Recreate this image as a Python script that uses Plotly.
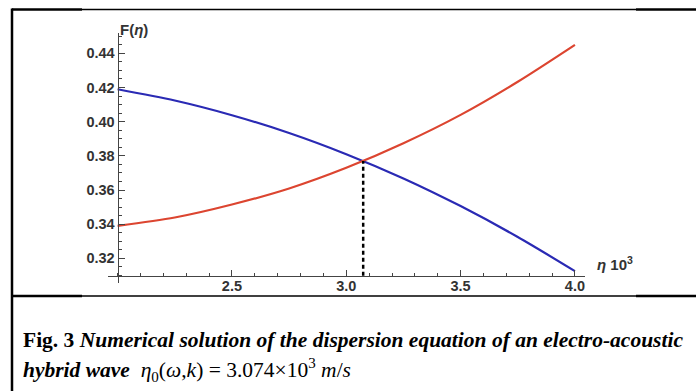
import plotly.graph_objects as go

# ---- data ----
eta = [2.0, 2.25, 2.5, 2.75, 3.0, 3.25, 3.5, 3.75, 4.0]
F_blue = [0.419, 0.4124, 0.4038, 0.3934, 0.3810, 0.3668, 0.3506, 0.3325, 0.3125]
F_red = [0.339, 0.3439, 0.3515, 0.3609, 0.3730, 0.3874, 0.4040, 0.4234, 0.445]
eta_cross = 3.074
F_cross = 0.377
x_ticks = [2.5, 3.0, 3.5, 4.0]
y_ticks = [0.32, 0.34, 0.36, 0.38, 0.40, 0.42, 0.44]

W, H = 696, 391
def px(x):
    return x / W
def py(y):
    return 1 - y / H

AX = "#444444"
TXT = "#333333"

fig = go.Figure()
fig.add_trace(go.Scatter(x=eta, y=F_blue, mode="lines",
                         line=dict(color="#2a2ab4", width=2.2, shape="spline", smoothing=0.8),
                         showlegend=False, hoverinfo="skip"))
fig.add_trace(go.Scatter(x=eta, y=F_red, mode="lines",
                         line=dict(color="#dc4530", width=2.2, shape="spline", smoothing=0.8),
                         showlegend=False, hoverinfo="skip"))
fig.add_trace(go.Scatter(x=[eta_cross, eta_cross], y=[0.3098, F_cross], mode="lines",
                         line=dict(color="black", width=2.5, dash="4px,3px"),
                         showlegend=False, hoverinfo="skip"))

tickfont = dict(family="Liberation Sans, Arial", size=14.5, color=TXT, weight="bold")
fig.update_layout(
    width=W, height=H,
    margin=dict(l=0, r=0, t=0, b=0),
    paper_bgcolor="white", plot_bgcolor="white",
    xaxis=dict(domain=[px(108), px(585)], range=[1.958, 4.044], anchor="free", position=py(275.7),
               showgrid=False, zeroline=False, showline=True, linecolor=AX, linewidth=1.2,
               tickmode="array", tickvals=x_ticks, ticktext=["%.1f" % v for v in x_ticks],
               ticks="inside", ticklen=6, tickcolor=AX, tickwidth=1.2, tickfont=tickfont,
               ticklabelstandoff=-3,
               minor=dict(dtick=0.1, tick0=2.0, ticks="inside", ticklen=3, tickcolor=AX, tickwidth=1)),
    yaxis=dict(domain=[py(283.3), py(32.7)], range=[0.3054, 0.4521], anchor="free", position=px(117.7),
               showgrid=False, zeroline=False, showline=True, linecolor=AX, linewidth=1.2,
               tickmode="array", tickvals=y_ticks, ticktext=["%.2f" % v for v in y_ticks],
               ticks="inside", ticklen=6, tickcolor=AX, tickwidth=1.2, tickfont=tickfont,
               minor=dict(dtick=0.005, tick0=0.30, ticks="inside", ticklen=3, tickcolor=AX, tickwidth=1)),
)

# axis labels
fig.add_annotation(x=px(118), y=py(19), xref="paper", yref="paper", text="F(<i>η</i>)",
                   showarrow=False, font=dict(family="Liberation Sans, Arial", size=15, color=TXT, weight="bold"))
fig.add_annotation(x=px(595), y=py(275), xref="paper", yref="paper", xanchor="left",
                   text="<i>η</i> 10<sup>3</sup>",
                   showarrow=False, font=dict(family="Liberation Sans, Arial", size=15, color=TXT, weight="bold"))

# caption
serif = "Liberation Serif, Times New Roman"
fig.add_annotation(x=px(21), y=py(340), xref="paper", yref="paper", xanchor="left", yanchor="middle",
                   text="<b>Fig. 3 <i>Numerical solution of the dispersion equation of an electro-acoustic</i></b>",
                   showarrow=False, font=dict(family=serif, size=21.5, color="black"))
fig.add_annotation(x=px(21), y=py(369.5), xref="paper", yref="paper", xanchor="left", yanchor="middle",
                   text="<b><i>hybrid wave</i></b>  <i>η</i><sub>0</sub>(<i>ω</i>,<i>k</i>) = 3.074×10<sup>3</sup> <i>m</i>/<i>s</i>",
                   showarrow=False, font=dict(family=serif, size=21.5, color="black"))

# table-like frame lines
def hline(y, x0, x1, w):
    fig.add_shape(type="line", xref="paper", yref="paper", x0=px(x0), x1=px(x1), y0=py(y), y1=py(y),
                  line=dict(color="black", width=w))
hline(9.5, 12, 82, 2.5)
hline(9.5, 82, 636, 1.5)
hline(9.5, 636, 696, 2.5)
hline(296, 12, 82, 2.5)
hline(296, 82, 636, 1.5)
hline(296, 636, 696, 2.5)
fig.add_shape(type="line", xref="paper", yref="paper", x0=px(12), x1=px(12), y0=py(8.5), y1=0,
              line=dict(color="black", width=2.5))

fig.write_html("out.html")
